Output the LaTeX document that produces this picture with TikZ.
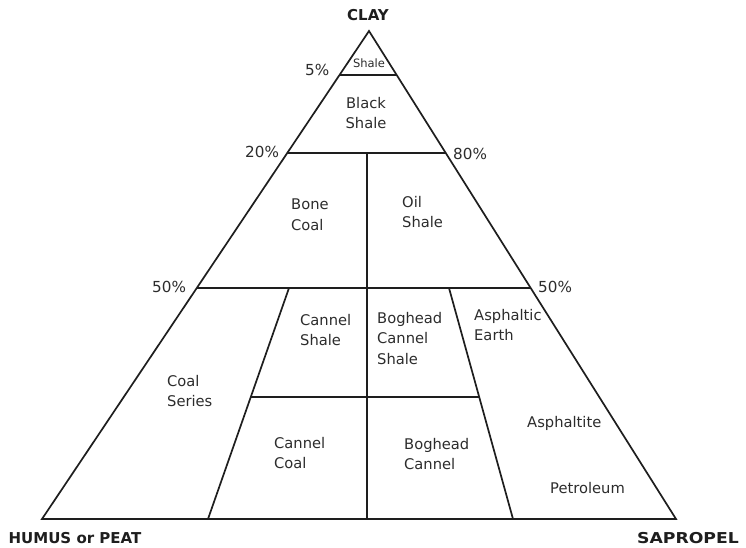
\documentclass[tikz,border=0pt]{standalone}
\usepackage{fontspec}
\setmainfont{DejaVu Sans}
\usetikzlibrary{calc}
\definecolor{linec}{HTML}{1E1E1E}
\definecolor{textc}{HTML}{2C2C2C}
\tikzset{
  edge/.style={draw=linec, line width=1.7pt, line join=miter},
  lbl/.style={inner sep=0pt, text=textc, font=\fontsize{14.7}{20.5}\selectfont, align=left, anchor=north west},
  lbl1/.style={inner sep=0pt, text=textc, font=\fontsize{14.7}{20.5}\selectfont, anchor=base west},
  pct/.style={inner sep=0pt, text=textc, font=\fontsize{15.2}{18}\selectfont, anchor=base west},
  corner/.style={inner sep=0pt, text=linec, font=\fontsize{15}{18}\selectfont\bfseries, anchor=base},
  small/.style={inner sep=0pt, text=textc, font=\fontsize{11.5}{13}\selectfont, anchor=base}
}
\begin{document}
\begin{tikzpicture}[x=1pt,y=-1pt]
\useasboundingbox (0,0) rectangle (746,547);
% corners
\coordinate (T) at (369,31);
\coordinate (BL) at (42,519);
\coordinate (BR) at (676,519);
% horizontal levels on the edges
\coordinate (aL) at ($(T)!0.0902!(BL)$);
\coordinate (aR) at ($(T)!0.0902!(BR)$);
\coordinate (bL) at ($(T)!0.25!(BL)$);
\coordinate (bR) at ($(T)!0.25!(BR)$);
\coordinate (cL) at ($(T)!0.5266!(BL)$);
\coordinate (cR) at ($(T)!0.5266!(BR)$);
% inner lines
\coordinate (vTop) at (367,153);
\coordinate (vBot) at (367,519);
\coordinate (iLt) at (289,288);
\coordinate (iLb) at (208,519);
\coordinate (iRt) at (449,288);
\coordinate (iRb) at (513,519);
\coordinate (mL) at ($(iLt)!0.4719!(iLb)$);
\coordinate (mR) at ($(iRt)!0.4719!(iRb)$);

\draw[edge] (T) -- (BL) -- (BR) -- cycle;
\draw[edge] (aL) -- (aR);
\draw[edge] (bL) -- (bR);
\draw[edge] (cL) -- (cR);
\draw[edge] (vTop) -- (vBot);
\draw[edge] (iLt) -- (iLb);
\draw[edge] (iRt) -- (iRb);
\draw[edge] (mL) -- (mR);

% corner labels
\node[corner] (clay) at (368,20) {CLAY};
\node[corner] (humus) at (75,543) {HUMUS or PEAT};
\node[corner] (sapro) at (688,543) {\scalebox{1.15}[1]{SAPROPEL}};

% percentages
\node[pct] (p5) at (305,75) {5\%};
\node[pct] (p20) at (245,157) {20\%};
\node[pct] (p80) at (453,159) {80\%};
\node[pct] (p50l) at (152,292) {50\%};
\node[pct] (p50r) at (538,292) {50\%};

% field labels
\node[small] (shale) at (369,67) {Shale};
\node[lbl, align=center, anchor=north] (black) at (366,97) {Black\\Shale};
\node[lbl] (bone) at (291,199) {Bone\\Coal};
\node[lbl] (oil) at (402,196) {Oil\\Shale};
\node[lbl] (cshale) at (300,314) {Cannel\\Shale};
\node[lbl] (bcs) at (377,312) {Boghead\\Cannel\\Shale};
\node[lbl] (asphe) at (474,309) {Asphaltic\\Earth};
\node[lbl] (coal) at (167,375) {Coal\\Series};
\node[lbl1] (asphite) at (527,427) {Asphaltite};
\node[lbl1] (petro) at (550,493) {Petroleum};
\node[lbl] (ccoal) at (274,437) {Cannel\\Coal};
\node[lbl] (bcan) at (404,438) {Boghead\\Cannel};
\end{tikzpicture}
\end{document}
